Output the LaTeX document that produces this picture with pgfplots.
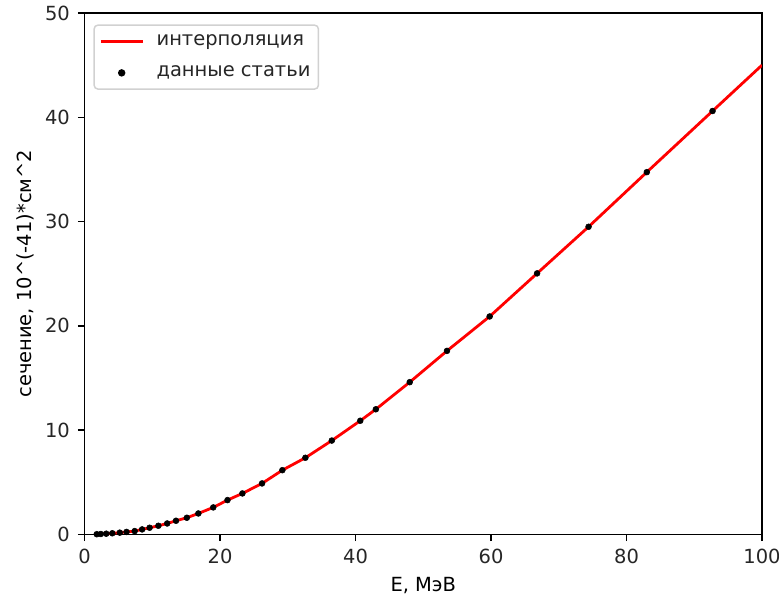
\documentclass[border=0pt]{standalone}
\usepackage{pgfplots}
\pgfplotsset{compat=1.18}
\usepackage{fontspec}
\setmainfont{DejaVu Sans}

\pgfplotstableread{
E      s
1.8    0.02
2.4    0.04
3.2    0.07
4.1    0.11
5.2    0.17
6.2    0.24
7.4    0.32
8.5    0.48
9.6    0.64
10.9   0.83
12.2   1.05
13.5   1.31
15.1   1.60
16.8   2.01
19.0   2.59
21.1   3.29
23.3   3.93
26.2   4.89
29.2   6.16
32.6   7.35
36.5   9.00
40.7   10.90
43.0   12.00
48.0   14.60
53.5   17.60
59.8   20.90
66.8   25.03
74.4   29.50
83.0   34.74
92.7   40.60
}\paper

\pgfplotstableread{
E      s
1.8    0.02
2.4    0.04
3.2    0.07
4.1    0.11
5.2    0.17
6.2    0.24
7.4    0.32
8.5    0.48
9.6    0.64
10.9   0.83
12.2   1.05
13.5   1.31
15.1   1.60
16.8   2.01
19.0   2.59
21.1   3.29
23.3   3.93
26.2   4.89
29.2   6.16
32.6   7.35
36.5   9.00
40.7   10.90
43.0   12.00
48.0   14.60
53.5   17.60
59.8   20.90
66.8   25.03
74.4   29.50
83.0   34.74
92.7   40.60
100.0  45.00
}\interp

\begin{document}
\fontsize{14.6}{17.5}\selectfont
\begin{tikzpicture}
\path[use as bounding box] (-63.4pt,-48.4pt) rectangle (520.75pt,400.75pt);
\begin{axis}[
  at={(0,0)}, anchor=south west,
  scale only axis,
  width=508pt, height=391pt,
  xmin=0, xmax=100, ymin=0, ymax=50,
  xtick={0,20,...,100}, ytick={0,10,...,50},
  tick align=outside, tick pos=left,
  major tick length=5pt,
  axis line style={line width=1.1pt},
  every tick/.style={black, line width=1.1pt},
  /pgf/number format/assume math mode=true,
  tick label style={font=\fontsize{14.6}{17.5}\selectfont, text=black!85},
  xticklabel style={yshift=-1pt},
  yticklabel style={xshift=-1pt},
  xlabel={E, МэВ},
  ylabel={сечение, 10\^{}(-41)*см\^{}2},
  label style={font=\fontsize{14.6}{17.5}\selectfont, text=black!85},
  every axis x label/.style={at={(axis description cs:0.5,0)}, anchor=center, yshift=-38.5pt},
  every axis y label/.style={at={(axis description cs:0,0.5)}, anchor=center, rotate=90, yshift=44pt},
  legend cell align=left,
  legend image code/.code={\path[draw=none, fill=none] (0cm,0cm) (1.4cm,0cm);
    \draw[mark repeat=2,mark phase=2,#1] plot coordinates {(0cm,0cm) (0.55cm,0cm) (1.1cm,0cm)};},
  legend style={at={(axis description cs:0,1)}, anchor=north west, xshift=6.6pt, yshift=-8.5pt,
    draw=black!18, line width=1.1pt, rounded corners=3pt, fill=white,
    inner xsep=4pt, inner ysep=5pt, row sep=9.3pt,
    font=\fontsize{14.6}{17.5}\selectfont, text=black!85},
]
\addplot[red, line width=2.1pt] table[x=E, y=s] {\interp};
\addlegendentry{интерполяция}
\addplot[only marks, mark=*, mark size=2.2pt, black] table[x=E, y=s] {\paper};
\addlegendentry{данные статьи}
\end{axis}
\end{tikzpicture}
\end{document}
